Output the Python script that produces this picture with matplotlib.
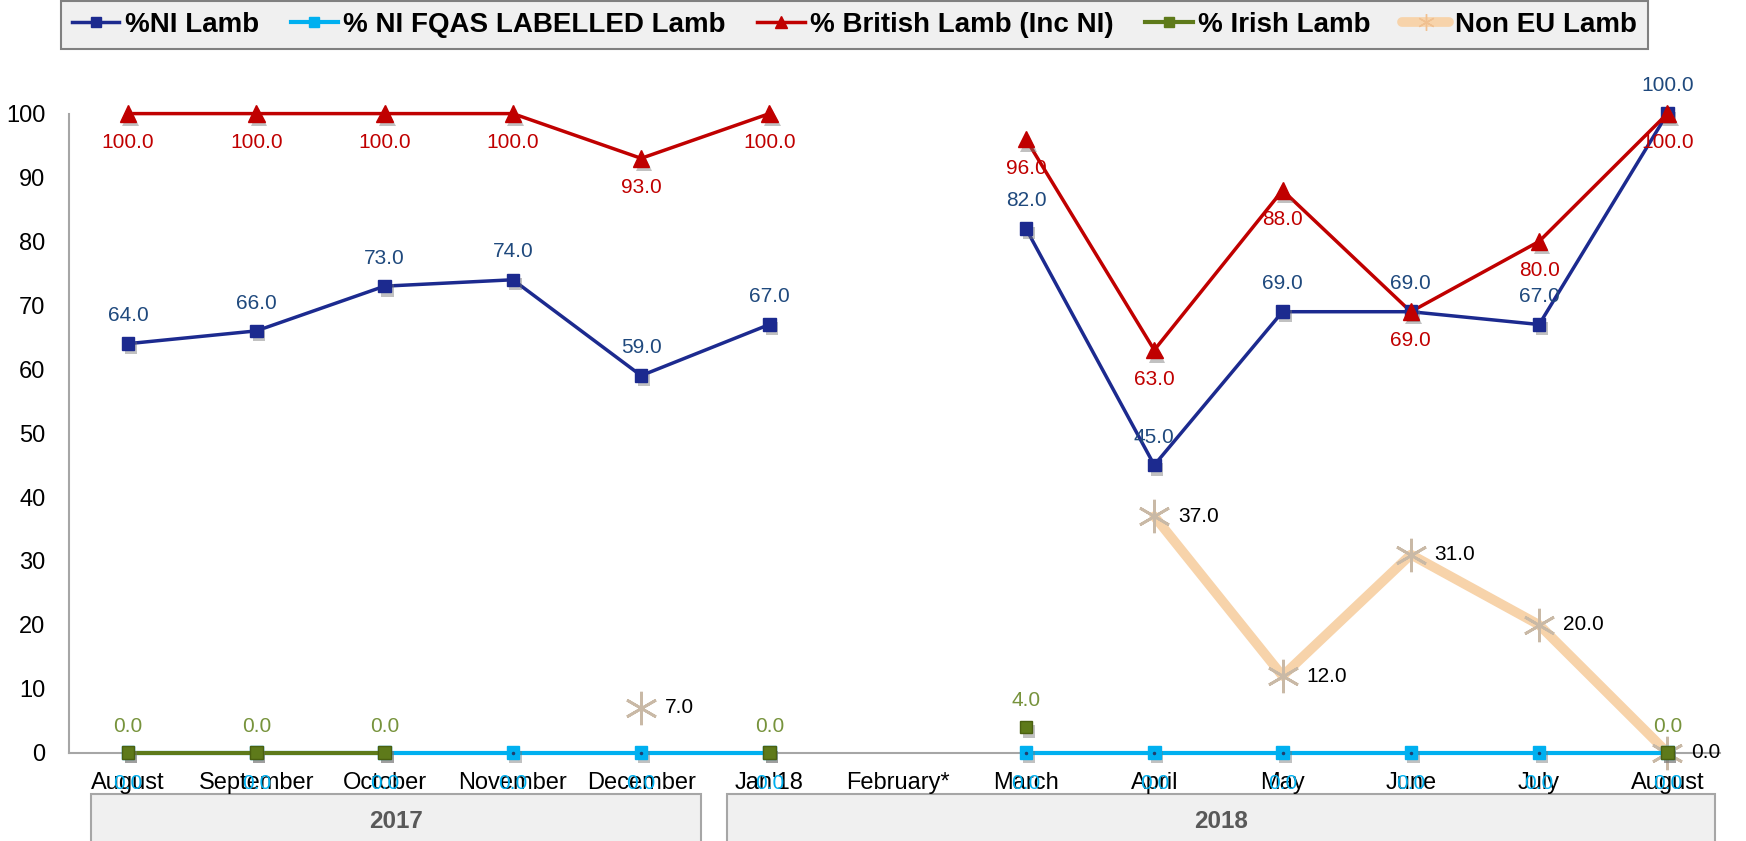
import numpy as np
import matplotlib
matplotlib.use("Agg")
import matplotlib.pyplot as plt
import matplotlib.patheffects as pe
from matplotlib.lines import Line2D
from matplotlib.patches import Rectangle
import matplotlib.transforms as mtransforms

plt.rcParams['font.family'] = ['Liberation Sans', 'DejaVu Sans']

categories = ["August", "September", "October", "November", "December", "Jan'18",
              "February*", "March", "April", "May", "June", "July", "August"]
nan = np.nan
ni_lamb = [64, 66, 73, 74, 59, 67, nan, 82, 45, 69, 69, 67, 100]
ni_fqas = [0, 0, 0, 0, 0, 0, nan, 0, 0, 0, 0, 0, 0]
british = [100, 100, 100, 100, 93, 100, nan, 96, 63, 88, 69, 80, 100]
irish = [0, 0, 0, nan, nan, 0, nan, 4, nan, nan, nan, nan, 0]
non_eu = [nan, nan, nan, nan, 7, nan, nan, nan, 37, 12, 31, 20, 0]
years = ["2017", "2018"]
year_spans = [(0, 4), (5, 12)]

x = np.arange(len(categories))

fig = plt.figure(figsize=(17.46, 8.41), dpi=100)
ax = fig.add_axes([69/1746, 1-752.7/841, (1720-69)/1746, (752.7-113.6)/841])
ax.set_xlim(-0.46, 12.41)
ax.set_ylim(0, 100)

shadow = [pe.SimplePatchShadow(offset=(2, -3), shadow_rgbFace='#777777', alpha=0.45), pe.Normal()]

c_ni, c_ni_lbl = '#1C2A8F', '#1F497D'
c_fq = '#00B0F0'
c_br = '#C00000'
c_ir, c_ir_lbl = '#5E7A1A', '#77933C'
c_ne, c_ne_m = '#F7D3AA', '#C9B9A6'

# Non EU
ax.plot(x, non_eu, color=c_ne, lw=7, solid_capstyle='round', zorder=2)
ax.plot(x, non_eu, ls='none', marker=(6, 2, 0), ms=24, mec=c_ne_m, mew=2, zorder=3, clip_on=False)
# FQAS
ax.plot(x, ni_fqas, color=c_fq, lw=3, zorder=3, clip_on=False)
ax.plot(x, ni_fqas, ls='none', marker='s', ms=9, mfc=c_fq, mec=c_fq, zorder=4, clip_on=False, path_effects=shadow)
ax.plot(x, ni_fqas, ls='none', marker='.', ms=3, color='#1F3F6F', zorder=5, clip_on=False)
# Irish
ax.plot(x, irish, color=c_ir, lw=3, zorder=4, clip_on=False)
ax.plot(x, irish, ls='none', marker='s', ms=9, mfc=c_ir, mec='#4A6010', zorder=5, clip_on=False, path_effects=shadow)
# NI
ax.plot(x, ni_lamb, color=c_ni, lw=2.5, zorder=6, clip_on=False)
ax.plot(x, ni_lamb, ls='none', marker='s', ms=9, mfc=c_ni, mec=c_ni, zorder=7, clip_on=False, path_effects=shadow)
# British
ax.plot(x, british, color=c_br, lw=2.5, zorder=6, clip_on=False)
ax.plot(x, british, ls='none', marker='^', ms=12, mfc=c_br, mec=c_br, zorder=8, clip_on=False, path_effects=shadow)

lfs = 15
def labels(vals, color, dx, dy, ha='center'):
    for xi, v in zip(x, vals):
        if np.isnan(v):
            continue
        ax.annotate(f"{v:.1f}", (xi, v), xytext=(dx, dy), textcoords='offset points',
                    ha=ha, va='center', color=color, fontsize=lfs, zorder=10, annotation_clip=False)

labels(ni_lamb, c_ni_lbl, 0, 20)
labels(british, c_br, 0, -21)
labels(ni_fqas, c_fq, 0, -22)
labels(irish, c_ir_lbl, 0, 19)
labels(non_eu, 'black', 17, 0, ha='left')

ax.set_xticks(x)
ax.set_xticklabels(categories, fontsize=17)
ax.set_yticks(np.arange(0, 101, 10))
ax.tick_params(axis='y', labelsize=17, length=0, pad=17)
ax.tick_params(axis='x', length=0, pad=14)
for s in ['top', 'right']:
    ax.spines[s].set_visible(False)
ax.spines['left'].set_color('#A6A6A6')
ax.spines['bottom'].set_color('#A6A6A6')
ax.spines['left'].set_linewidth(1.5)
ax.spines['bottom'].set_linewidth(1.5)

# year boxes
trans = mtransforms.blended_transform_factory(ax.transData, ax.transAxes)
y0 = (752.7 - 794) / 639.1
y1 = (752.7 - 845) / 639.1
ytxt = (752.7 - 822) / 639.1
for yr, (a, b) in zip(years, year_spans):
    left = a - 0.5 + (0.21 if a == 0 else 0.17)
    right = b + 0.5 - (0.03 if a == 0 else 0.13)
    r = Rectangle((left, y1), right - left, y0 - y1, transform=trans, facecolor='#F0F0F0',
                  edgecolor='#A6A6A6', lw=1.5, clip_on=False, zorder=1)
    ax.add_patch(r)
    ax.text((left + right) / 2, ytxt, yr, transform=trans, ha='center', va='center',
            fontsize=17.5, fontweight='bold', color='#595959')

handles = [
    Line2D([], [], color=c_ni, lw=2.5, marker='s', ms=7),
    Line2D([], [], color=c_fq, lw=3, marker='s', ms=7),
    Line2D([], [], color=c_br, lw=2.5, marker='^', ms=9),
    Line2D([], [], color=c_ir, lw=3, marker='s', ms=7),
    Line2D([], [], color=c_ne, lw=7, marker=(6, 2, 0), ms=12, mec='#F0C090', solid_capstyle='round'),
]
names = ["%NI Lamb", "% NI FQAS LABELLED Lamb", "% British Lamb (Inc NI)", "% Irish Lamb", "Non EU Lamb"]
leg = fig.legend(handles, names, loc='center', ncol=5, mode='expand',
                 bbox_to_anchor=(61/1746, 1-48/841, (1648-61)/1746, 46/841),
                 prop={'weight': 'bold', 'size': 20}, frameon=True, fancybox=False,
                 handlelength=1.7, handletextpad=0.2, borderpad=0.4, borderaxespad=0,
                 columnspacing=0.8)
fr = leg.get_frame()
fr.set_facecolor('#F0F0F0')
fr.set_edgecolor('#808080')
fr.set_linewidth(1.5)
fr.set_alpha(1)

fig.savefig('out.png', dpi=100)
